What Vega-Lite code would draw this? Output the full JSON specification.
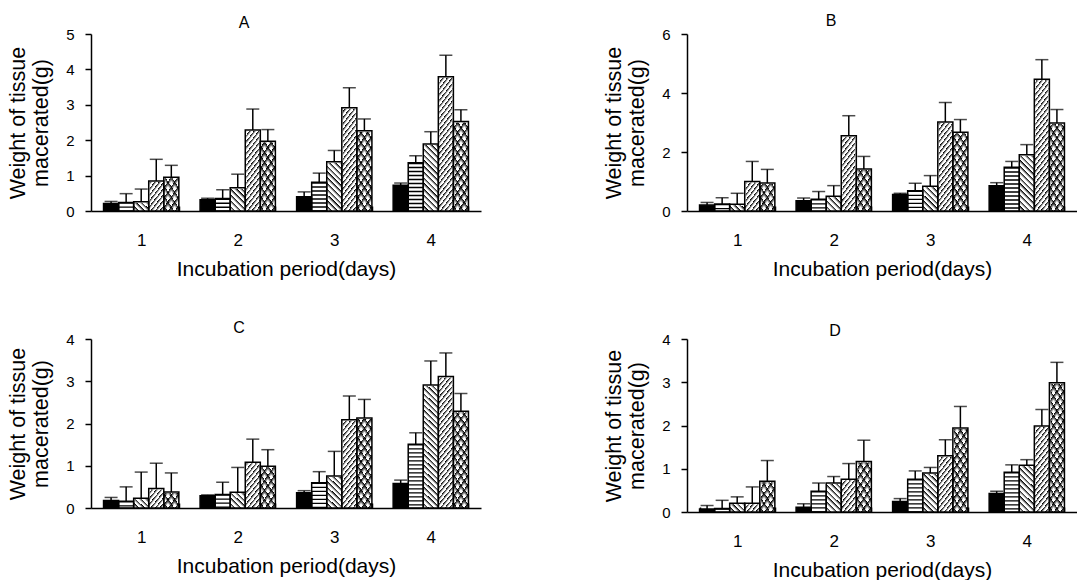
{
 "$schema": "https://vega.github.io/schema/vega-lite/v6.json",
 "background": "white",
 "padding": {"left": 7, "top": 13, "right": 0, "bottom": 0},
 "params": [
  {"name": "gs", "value": {"gradient": "linear", "x1": 0, "y1": 0, "x2": 0.121, "y2": 1.097, "stops": [
    {"offset":0.01,"color":"#fff"},{"offset":0.01,"color":"#000"},{"offset":0.028,"color":"#fff"},
    {"offset":0.04,"color":"#fff"},{"offset":0.04,"color":"#000"},{"offset":0.058,"color":"#fff"},
    {"offset":0.07,"color":"#fff"},{"offset":0.07,"color":"#000"},{"offset":0.088,"color":"#fff"},
    {"offset":0.10,"color":"#fff"},{"offset":0.10,"color":"#000"},{"offset":0.118,"color":"#fff"},
    {"offset":0.13,"color":"#fff"},{"offset":0.13,"color":"#000"},{"offset":0.148,"color":"#fff"},
    {"offset":0.16,"color":"#fff"},{"offset":0.16,"color":"#000"},{"offset":0.178,"color":"#fff"},
    {"offset":0.19,"color":"#fff"},{"offset":0.19,"color":"#000"},{"offset":0.208,"color":"#fff"},
    {"offset":0.22,"color":"#fff"},{"offset":0.22,"color":"#000"},{"offset":0.238,"color":"#fff"},
    {"offset":0.25,"color":"#fff"},{"offset":0.25,"color":"#000"},{"offset":0.268,"color":"#fff"},
    {"offset":0.28,"color":"#fff"},{"offset":0.28,"color":"#000"},{"offset":0.298,"color":"#fff"},
    {"offset":0.31,"color":"#fff"},{"offset":0.31,"color":"#000"},{"offset":0.328,"color":"#fff"},
    {"offset":0.34,"color":"#fff"},{"offset":0.34,"color":"#000"},{"offset":0.358,"color":"#fff"},
    {"offset":0.37,"color":"#fff"},{"offset":0.37,"color":"#000"},{"offset":0.388,"color":"#fff"},
    {"offset":0.40,"color":"#fff"},{"offset":0.40,"color":"#000"},{"offset":0.418,"color":"#fff"},
    {"offset":0.43,"color":"#fff"},{"offset":0.43,"color":"#000"},{"offset":0.448,"color":"#fff"},
    {"offset":0.46,"color":"#fff"},{"offset":0.46,"color":"#000"},{"offset":0.478,"color":"#fff"},
    {"offset":0.49,"color":"#fff"},{"offset":0.49,"color":"#000"},{"offset":0.508,"color":"#fff"},
    {"offset":0.52,"color":"#fff"},{"offset":0.52,"color":"#000"},{"offset":0.538,"color":"#fff"},
    {"offset":0.55,"color":"#fff"},{"offset":0.55,"color":"#000"},{"offset":0.568,"color":"#fff"},
    {"offset":0.58,"color":"#fff"},{"offset":0.58,"color":"#000"},{"offset":0.598,"color":"#fff"},
    {"offset":0.61,"color":"#fff"},{"offset":0.61,"color":"#000"},{"offset":0.628,"color":"#fff"},
    {"offset":0.64,"color":"#fff"},{"offset":0.64,"color":"#000"},{"offset":0.658,"color":"#fff"},
    {"offset":0.67,"color":"#fff"},{"offset":0.67,"color":"#000"},{"offset":0.688,"color":"#fff"},
    {"offset":0.70,"color":"#fff"},{"offset":0.70,"color":"#000"},{"offset":0.718,"color":"#fff"},
    {"offset":0.73,"color":"#fff"},{"offset":0.73,"color":"#000"},{"offset":0.748,"color":"#fff"},
    {"offset":0.76,"color":"#fff"},{"offset":0.76,"color":"#000"},{"offset":0.778,"color":"#fff"},
    {"offset":0.79,"color":"#fff"},{"offset":0.79,"color":"#000"},{"offset":0.808,"color":"#fff"},
    {"offset":0.82,"color":"#fff"},{"offset":0.82,"color":"#000"},{"offset":0.838,"color":"#fff"},
    {"offset":0.85,"color":"#fff"},{"offset":0.85,"color":"#000"},{"offset":0.868,"color":"#fff"},
    {"offset":0.88,"color":"#fff"},{"offset":0.88,"color":"#000"},{"offset":0.898,"color":"#fff"},
    {"offset":0.91,"color":"#fff"},{"offset":0.91,"color":"#000"},{"offset":0.928,"color":"#fff"},
    {"offset":0.94,"color":"#fff"},{"offset":0.94,"color":"#000"},{"offset":0.958,"color":"#fff"},
    {"offset":0.97,"color":"#fff"},{"offset":0.97,"color":"#000"},{"offset":0.988,"color":"#fff"}
  ]}},
  {"name": "gb", "value": {"gradient": "linear", "x1": 1, "y1": 0, "x2": 0.909, "y2": 1.077, "stops": [
    {"offset":0.01,"color":"#fff"},{"offset":0.01,"color":"#000"},{"offset":0.028,"color":"#fff"},
    {"offset":0.04,"color":"#fff"},{"offset":0.04,"color":"#000"},{"offset":0.058,"color":"#fff"},
    {"offset":0.07,"color":"#fff"},{"offset":0.07,"color":"#000"},{"offset":0.088,"color":"#fff"},
    {"offset":0.10,"color":"#fff"},{"offset":0.10,"color":"#000"},{"offset":0.118,"color":"#fff"},
    {"offset":0.13,"color":"#fff"},{"offset":0.13,"color":"#000"},{"offset":0.148,"color":"#fff"},
    {"offset":0.16,"color":"#fff"},{"offset":0.16,"color":"#000"},{"offset":0.178,"color":"#fff"},
    {"offset":0.19,"color":"#fff"},{"offset":0.19,"color":"#000"},{"offset":0.208,"color":"#fff"},
    {"offset":0.22,"color":"#fff"},{"offset":0.22,"color":"#000"},{"offset":0.238,"color":"#fff"},
    {"offset":0.25,"color":"#fff"},{"offset":0.25,"color":"#000"},{"offset":0.268,"color":"#fff"},
    {"offset":0.28,"color":"#fff"},{"offset":0.28,"color":"#000"},{"offset":0.298,"color":"#fff"},
    {"offset":0.31,"color":"#fff"},{"offset":0.31,"color":"#000"},{"offset":0.328,"color":"#fff"},
    {"offset":0.34,"color":"#fff"},{"offset":0.34,"color":"#000"},{"offset":0.358,"color":"#fff"},
    {"offset":0.37,"color":"#fff"},{"offset":0.37,"color":"#000"},{"offset":0.388,"color":"#fff"},
    {"offset":0.40,"color":"#fff"},{"offset":0.40,"color":"#000"},{"offset":0.418,"color":"#fff"},
    {"offset":0.43,"color":"#fff"},{"offset":0.43,"color":"#000"},{"offset":0.448,"color":"#fff"},
    {"offset":0.46,"color":"#fff"},{"offset":0.46,"color":"#000"},{"offset":0.478,"color":"#fff"},
    {"offset":0.49,"color":"#fff"},{"offset":0.49,"color":"#000"},{"offset":0.508,"color":"#fff"},
    {"offset":0.52,"color":"#fff"},{"offset":0.52,"color":"#000"},{"offset":0.538,"color":"#fff"},
    {"offset":0.55,"color":"#fff"},{"offset":0.55,"color":"#000"},{"offset":0.568,"color":"#fff"},
    {"offset":0.58,"color":"#fff"},{"offset":0.58,"color":"#000"},{"offset":0.598,"color":"#fff"},
    {"offset":0.61,"color":"#fff"},{"offset":0.61,"color":"#000"},{"offset":0.628,"color":"#fff"},
    {"offset":0.64,"color":"#fff"},{"offset":0.64,"color":"#000"},{"offset":0.658,"color":"#fff"},
    {"offset":0.67,"color":"#fff"},{"offset":0.67,"color":"#000"},{"offset":0.688,"color":"#fff"},
    {"offset":0.70,"color":"#fff"},{"offset":0.70,"color":"#000"},{"offset":0.718,"color":"#fff"},
    {"offset":0.73,"color":"#fff"},{"offset":0.73,"color":"#000"},{"offset":0.748,"color":"#fff"},
    {"offset":0.76,"color":"#fff"},{"offset":0.76,"color":"#000"},{"offset":0.778,"color":"#fff"},
    {"offset":0.79,"color":"#fff"},{"offset":0.79,"color":"#000"},{"offset":0.808,"color":"#fff"},
    {"offset":0.82,"color":"#fff"},{"offset":0.82,"color":"#000"},{"offset":0.838,"color":"#fff"},
    {"offset":0.85,"color":"#fff"},{"offset":0.85,"color":"#000"},{"offset":0.868,"color":"#fff"},
    {"offset":0.88,"color":"#fff"},{"offset":0.88,"color":"#000"},{"offset":0.898,"color":"#fff"},
    {"offset":0.91,"color":"#fff"},{"offset":0.91,"color":"#000"},{"offset":0.928,"color":"#fff"},
    {"offset":0.94,"color":"#fff"},{"offset":0.94,"color":"#000"},{"offset":0.958,"color":"#fff"},
    {"offset":0.97,"color":"#fff"},{"offset":0.97,"color":"#000"},{"offset":0.988,"color":"#fff"}
  ]}},
  {"name": "gcs", "value": {"gradient": "linear", "x1": 0, "y1": 0, "x2": 0.141, "y2": 1.109, "stops": [
    {"offset":0.02,"color":"#fff"},{"offset":0.02,"color":"#000"},{"offset":0.048,"color":"#fff"},
    {"offset":0.07,"color":"#fff"},{"offset":0.07,"color":"#000"},{"offset":0.098,"color":"#fff"},
    {"offset":0.12,"color":"#fff"},{"offset":0.12,"color":"#000"},{"offset":0.148,"color":"#fff"},
    {"offset":0.17,"color":"#fff"},{"offset":0.17,"color":"#000"},{"offset":0.198,"color":"#fff"},
    {"offset":0.22,"color":"#fff"},{"offset":0.22,"color":"#000"},{"offset":0.248,"color":"#fff"},
    {"offset":0.27,"color":"#fff"},{"offset":0.27,"color":"#000"},{"offset":0.298,"color":"#fff"},
    {"offset":0.32,"color":"#fff"},{"offset":0.32,"color":"#000"},{"offset":0.348,"color":"#fff"},
    {"offset":0.37,"color":"#fff"},{"offset":0.37,"color":"#000"},{"offset":0.398,"color":"#fff"},
    {"offset":0.42,"color":"#fff"},{"offset":0.42,"color":"#000"},{"offset":0.448,"color":"#fff"},
    {"offset":0.47,"color":"#fff"},{"offset":0.47,"color":"#000"},{"offset":0.498,"color":"#fff"},
    {"offset":0.52,"color":"#fff"},{"offset":0.52,"color":"#000"},{"offset":0.548,"color":"#fff"},
    {"offset":0.57,"color":"#fff"},{"offset":0.57,"color":"#000"},{"offset":0.598,"color":"#fff"},
    {"offset":0.62,"color":"#fff"},{"offset":0.62,"color":"#000"},{"offset":0.648,"color":"#fff"},
    {"offset":0.67,"color":"#fff"},{"offset":0.67,"color":"#000"},{"offset":0.698,"color":"#fff"},
    {"offset":0.72,"color":"#fff"},{"offset":0.72,"color":"#000"},{"offset":0.748,"color":"#fff"},
    {"offset":0.77,"color":"#fff"},{"offset":0.77,"color":"#000"},{"offset":0.798,"color":"#fff"},
    {"offset":0.82,"color":"#fff"},{"offset":0.82,"color":"#000"},{"offset":0.848,"color":"#fff"},
    {"offset":0.87,"color":"#fff"},{"offset":0.87,"color":"#000"},{"offset":0.898,"color":"#fff"},
    {"offset":0.92,"color":"#fff"},{"offset":0.92,"color":"#000"},{"offset":0.948,"color":"#fff"},
    {"offset":0.97,"color":"#fff"},{"offset":0.97,"color":"#000"},{"offset":0.998,"color":"#fff"}
  ]}},
  {"name": "gcb", "value": {"gradient": "linear", "x1": 1, "y1": 0, "x2": 0.859, "y2": 1.109, "stops": [
    {"offset":0.02,"color":"rgba(0,0,0,0)"},{"offset":0.02,"color":"#000"},{"offset":0.048,"color":"rgba(0,0,0,0)"},
    {"offset":0.07,"color":"rgba(0,0,0,0)"},{"offset":0.07,"color":"#000"},{"offset":0.098,"color":"rgba(0,0,0,0)"},
    {"offset":0.12,"color":"rgba(0,0,0,0)"},{"offset":0.12,"color":"#000"},{"offset":0.148,"color":"rgba(0,0,0,0)"},
    {"offset":0.17,"color":"rgba(0,0,0,0)"},{"offset":0.17,"color":"#000"},{"offset":0.198,"color":"rgba(0,0,0,0)"},
    {"offset":0.22,"color":"rgba(0,0,0,0)"},{"offset":0.22,"color":"#000"},{"offset":0.248,"color":"rgba(0,0,0,0)"},
    {"offset":0.27,"color":"rgba(0,0,0,0)"},{"offset":0.27,"color":"#000"},{"offset":0.298,"color":"rgba(0,0,0,0)"},
    {"offset":0.32,"color":"rgba(0,0,0,0)"},{"offset":0.32,"color":"#000"},{"offset":0.348,"color":"rgba(0,0,0,0)"},
    {"offset":0.37,"color":"rgba(0,0,0,0)"},{"offset":0.37,"color":"#000"},{"offset":0.398,"color":"rgba(0,0,0,0)"},
    {"offset":0.42,"color":"rgba(0,0,0,0)"},{"offset":0.42,"color":"#000"},{"offset":0.448,"color":"rgba(0,0,0,0)"},
    {"offset":0.47,"color":"rgba(0,0,0,0)"},{"offset":0.47,"color":"#000"},{"offset":0.498,"color":"rgba(0,0,0,0)"},
    {"offset":0.52,"color":"rgba(0,0,0,0)"},{"offset":0.52,"color":"#000"},{"offset":0.548,"color":"rgba(0,0,0,0)"},
    {"offset":0.57,"color":"rgba(0,0,0,0)"},{"offset":0.57,"color":"#000"},{"offset":0.598,"color":"rgba(0,0,0,0)"},
    {"offset":0.62,"color":"rgba(0,0,0,0)"},{"offset":0.62,"color":"#000"},{"offset":0.648,"color":"rgba(0,0,0,0)"},
    {"offset":0.67,"color":"rgba(0,0,0,0)"},{"offset":0.67,"color":"#000"},{"offset":0.698,"color":"rgba(0,0,0,0)"},
    {"offset":0.72,"color":"rgba(0,0,0,0)"},{"offset":0.72,"color":"#000"},{"offset":0.748,"color":"rgba(0,0,0,0)"},
    {"offset":0.77,"color":"rgba(0,0,0,0)"},{"offset":0.77,"color":"#000"},{"offset":0.798,"color":"rgba(0,0,0,0)"},
    {"offset":0.82,"color":"rgba(0,0,0,0)"},{"offset":0.82,"color":"#000"},{"offset":0.848,"color":"rgba(0,0,0,0)"},
    {"offset":0.87,"color":"rgba(0,0,0,0)"},{"offset":0.87,"color":"#000"},{"offset":0.898,"color":"rgba(0,0,0,0)"},
    {"offset":0.92,"color":"rgba(0,0,0,0)"},{"offset":0.92,"color":"#000"},{"offset":0.948,"color":"rgba(0,0,0,0)"},
    {"offset":0.97,"color":"rgba(0,0,0,0)"},{"offset":0.97,"color":"#000"},{"offset":0.998,"color":"rgba(0,0,0,0)"}
  ]}}
 ],
 "data": {"values": [
  {"p":"A","d":1,"s":1,"v":0.21,"hi":0.27},{"p":"A","d":1,"s":2,"v":0.24,"hi":0.49},{"p":"A","d":1,"s":3,"v":0.26,"hi":0.62},{"p":"A","d":1,"s":4,"v":0.85,"hi":1.46},{"p":"A","d":1,"s":5,"v":0.95,"hi":1.29},
  {"p":"A","d":2,"s":1,"v":0.32,"hi":0.36},{"p":"A","d":2,"s":2,"v":0.35,"hi":0.6},{"p":"A","d":2,"s":3,"v":0.66,"hi":1.04},{"p":"A","d":2,"s":4,"v":2.29,"hi":2.88},{"p":"A","d":2,"s":5,"v":1.97,"hi":2.3},
  {"p":"A","d":3,"s":1,"v":0.4,"hi":0.54},{"p":"A","d":3,"s":2,"v":0.81,"hi":1.07},{"p":"A","d":3,"s":3,"v":1.39,"hi":1.71},{"p":"A","d":3,"s":4,"v":2.92,"hi":3.48},{"p":"A","d":3,"s":5,"v":2.27,"hi":2.6},
  {"p":"A","d":4,"s":1,"v":0.73,"hi":0.79},{"p":"A","d":4,"s":2,"v":1.36,"hi":1.56},{"p":"A","d":4,"s":3,"v":1.89,"hi":2.24},{"p":"A","d":4,"s":4,"v":3.79,"hi":4.4},{"p":"A","d":4,"s":5,"v":2.53,"hi":2.86},
  {"p":"B","d":1,"s":1,"v":0.2,"hi":0.29},{"p":"B","d":1,"s":2,"v":0.24,"hi":0.45},{"p":"B","d":1,"s":3,"v":0.23,"hi":0.6},{"p":"B","d":1,"s":4,"v":1.0,"hi":1.68},{"p":"B","d":1,"s":5,"v":0.95,"hi":1.41},
  {"p":"B","d":2,"s":1,"v":0.35,"hi":0.44},{"p":"B","d":2,"s":2,"v":0.4,"hi":0.66},{"p":"B","d":2,"s":3,"v":0.5,"hi":0.86},{"p":"B","d":2,"s":4,"v":2.55,"hi":3.23},{"p":"B","d":2,"s":5,"v":1.42,"hi":1.85},
  {"p":"B","d":3,"s":1,"v":0.56,"hi":0.6},{"p":"B","d":3,"s":2,"v":0.69,"hi":0.94},{"p":"B","d":3,"s":3,"v":0.84,"hi":1.2},{"p":"B","d":3,"s":4,"v":3.02,"hi":3.68},{"p":"B","d":3,"s":5,"v":2.67,"hi":3.1},
  {"p":"B","d":4,"s":1,"v":0.86,"hi":0.96},{"p":"B","d":4,"s":2,"v":1.48,"hi":1.68},{"p":"B","d":4,"s":3,"v":1.91,"hi":2.25},{"p":"B","d":4,"s":4,"v":4.47,"hi":5.13},{"p":"B","d":4,"s":5,"v":2.98,"hi":3.44},
  {"p":"C","d":1,"s":1,"v":0.18,"hi":0.25},{"p":"C","d":1,"s":2,"v":0.16,"hi":0.5},{"p":"C","d":1,"s":3,"v":0.23,"hi":0.85},{"p":"C","d":1,"s":4,"v":0.46,"hi":1.06},{"p":"C","d":1,"s":5,"v":0.38,"hi":0.83},
  {"p":"C","d":2,"s":1,"v":0.29,"hi":0.31},{"p":"C","d":2,"s":2,"v":0.32,"hi":0.61},{"p":"C","d":2,"s":3,"v":0.37,"hi":0.96},{"p":"C","d":2,"s":4,"v":1.08,"hi":1.63},{"p":"C","d":2,"s":5,"v":0.99,"hi":1.38},
  {"p":"C","d":3,"s":1,"v":0.36,"hi":0.41},{"p":"C","d":3,"s":2,"v":0.6,"hi":0.86},{"p":"C","d":3,"s":3,"v":0.76,"hi":1.34},{"p":"C","d":3,"s":4,"v":2.09,"hi":2.65},{"p":"C","d":3,"s":5,"v":2.13,"hi":2.57},
  {"p":"C","d":4,"s":1,"v":0.58,"hi":0.66},{"p":"C","d":4,"s":2,"v":1.51,"hi":1.78},{"p":"C","d":4,"s":3,"v":2.91,"hi":3.48},{"p":"C","d":4,"s":4,"v":3.11,"hi":3.67},{"p":"C","d":4,"s":5,"v":2.29,"hi":2.71},
  {"p":"D","d":1,"s":1,"v":0.07,"hi":0.15},{"p":"D","d":1,"s":2,"v":0.08,"hi":0.27},{"p":"D","d":1,"s":3,"v":0.2,"hi":0.35},{"p":"D","d":1,"s":4,"v":0.2,"hi":0.58},{"p":"D","d":1,"s":5,"v":0.71,"hi":1.19},
  {"p":"D","d":2,"s":1,"v":0.11,"hi":0.19},{"p":"D","d":2,"s":2,"v":0.48,"hi":0.67},{"p":"D","d":2,"s":3,"v":0.67,"hi":0.82},{"p":"D","d":2,"s":4,"v":0.76,"hi":1.12},{"p":"D","d":2,"s":5,"v":1.17,"hi":1.66},
  {"p":"D","d":3,"s":1,"v":0.24,"hi":0.31},{"p":"D","d":3,"s":2,"v":0.76,"hi":0.95},{"p":"D","d":3,"s":3,"v":0.9,"hi":1.03},{"p":"D","d":3,"s":4,"v":1.3,"hi":1.67},{"p":"D","d":3,"s":5,"v":1.94,"hi":2.44},
  {"p":"D","d":4,"s":1,"v":0.43,"hi":0.48},{"p":"D","d":4,"s":2,"v":0.92,"hi":1.09},{"p":"D","d":4,"s":3,"v":1.08,"hi":1.21},{"p":"D","d":4,"s":4,"v":1.99,"hi":2.37},{"p":"D","d":4,"s":5,"v":2.99,"hi":3.46}
 ]},
 "spacing": 41,
 "vconcat": [
  {"spacing": 122, "hconcat": [
   {"width": 390, "height": 177,
    "title": {"text": "A", "dx": -42, "offset": -4},
    "transform": [{"filter": "datum.p == 'A'"}],
    "encoding": {
     "x": {"field": "d", "type": "ordinal", "scale": {"paddingInner": 0.22, "paddingOuter": 0.13}, "axis": {"title": "Incubation period(days)"}},
     "xOffset": {"field": "s", "type": "nominal", "scale": {"paddingInner": 0, "paddingOuter": 0}}
    },
    "layer": [
     {"transform": [{"filter": "datum.s == 3"}], "mark": {"type": "bar", "fill": {"expr": "gb"}}, "encoding": {"y": {"datum": 5, "type": "quantitative", "axis": {"values": [0,1,2,3,4,5], "labelOverlap": false, "labelFontSize": 15, "title": ["Weight of tissue", "macerated(g)"]}}, "y2": {"datum": 0}}},
     {"transform": [{"filter": "datum.s == 4"}], "mark": {"type": "bar", "fill": {"expr": "gs"}}, "encoding": {"y": {"datum": 5, "type": "quantitative", "axis": {"values": [0,1,2,3,4,5], "labelOverlap": false, "labelFontSize": 15, "title": ["Weight of tissue", "macerated(g)"]}}, "y2": {"datum": 0}}},
     {"transform": [{"filter": "datum.s == 5"}], "mark": {"type": "bar", "fill": {"expr": "gcs"}}, "encoding": {"y": {"datum": 5, "type": "quantitative", "axis": {"values": [0,1,2,3,4,5], "labelOverlap": false, "labelFontSize": 15, "title": ["Weight of tissue", "macerated(g)"]}}, "y2": {"datum": 0}}},
     {"transform": [{"filter": "datum.s == 5"}], "mark": {"type": "bar", "fill": {"expr": "gcb"}}, "encoding": {"y": {"datum": 5, "type": "quantitative", "axis": {"values": [0,1,2,3,4,5], "labelOverlap": false, "labelFontSize": 15, "title": ["Weight of tissue", "macerated(g)"]}}, "y2": {"datum": 0}}},
     {"transform": [{"filter": "datum.s >= 3"}], "mark": {"type": "bar", "fill": "#fff", "stroke": "#fff", "strokeWidth": 2}, "encoding": {"y": {"field": "v", "type": "quantitative", "axis": {"values": [0,1,2,3,4,5], "labelOverlap": false, "labelFontSize": 15, "title": ["Weight of tissue", "macerated(g)"]}}, "y2": {"datum": 5}}},
     {"transform": [{"filter": "datum.s == 2"}], "mark": {"type": "rule", "strokeWidth": 15, "strokeDash": [1.3, 2.7], "color": "#000"}, "encoding": {"y": {"field": "v", "type": "quantitative", "axis": {"values": [0,1,2,3,4,5], "labelOverlap": false, "labelFontSize": 15, "title": ["Weight of tissue", "macerated(g)"]}}, "y2": {"datum": 0}}},
     {"mark": {"type": "bar", "stroke": "#000", "strokeWidth": 1.5}, "encoding": {"y": {"field": "v", "type": "quantitative", "scale": {"domain": [0, 5], "nice": false}, "axis": {"values": [0,1,2,3,4,5], "labelOverlap": false, "labelFontSize": 15, "title": ["Weight of tissue", "macerated(g)"]}}, "fill": {"condition": {"test": "datum.s == 1", "value": "#000"}, "value": "transparent"}}},
     {"mark": {"type": "rule", "strokeWidth": 1.5, "color": "#000"}, "encoding": {"y": {"field": "v", "type": "quantitative", "axis": {"values": [0,1,2,3,4,5], "labelOverlap": false, "labelFontSize": 15, "title": ["Weight of tissue", "macerated(g)"]}}, "y2": {"field": "hi"}}},
     {"mark": {"type": "tick", "size": 13, "thickness": 1.5, "color": "#000"}, "encoding": {"y": {"field": "hi", "type": "quantitative", "axis": {"values": [0,1,2,3,4,5], "labelOverlap": false, "labelFontSize": 15, "title": ["Weight of tissue", "macerated(g)"]}}}}
    ]},
   {"width": 390, "height": 177,
    "title": {"text": "B", "dx": -51, "offset": -2},
    "transform": [{"filter": "datum.p == 'B'"}],
    "encoding": {
     "x": {"field": "d", "type": "ordinal", "scale": {"paddingInner": 0.22, "paddingOuter": 0.13}, "axis": {"title": "Incubation period(days)"}},
     "xOffset": {"field": "s", "type": "nominal", "scale": {"paddingInner": 0, "paddingOuter": 0}}
    },
    "layer": [
     {"transform": [{"filter": "datum.s == 3"}], "mark": {"type": "bar", "fill": {"expr": "gb"}}, "encoding": {"y": {"datum": 6, "type": "quantitative", "axis": {"values": [0,2,4,6], "labelOverlap": false, "labelFontSize": 15, "title": ["Weight of tissue", "macerated(g)"]}}, "y2": {"datum": 0}}},
     {"transform": [{"filter": "datum.s == 4"}], "mark": {"type": "bar", "fill": {"expr": "gs"}}, "encoding": {"y": {"datum": 6, "type": "quantitative", "axis": {"values": [0,2,4,6], "labelOverlap": false, "labelFontSize": 15, "title": ["Weight of tissue", "macerated(g)"]}}, "y2": {"datum": 0}}},
     {"transform": [{"filter": "datum.s == 5"}], "mark": {"type": "bar", "fill": {"expr": "gcs"}}, "encoding": {"y": {"datum": 6, "type": "quantitative", "axis": {"values": [0,2,4,6], "labelOverlap": false, "labelFontSize": 15, "title": ["Weight of tissue", "macerated(g)"]}}, "y2": {"datum": 0}}},
     {"transform": [{"filter": "datum.s == 5"}], "mark": {"type": "bar", "fill": {"expr": "gcb"}}, "encoding": {"y": {"datum": 6, "type": "quantitative", "axis": {"values": [0,2,4,6], "labelOverlap": false, "labelFontSize": 15, "title": ["Weight of tissue", "macerated(g)"]}}, "y2": {"datum": 0}}},
     {"transform": [{"filter": "datum.s >= 3"}], "mark": {"type": "bar", "fill": "#fff", "stroke": "#fff", "strokeWidth": 2}, "encoding": {"y": {"field": "v", "type": "quantitative", "axis": {"values": [0,2,4,6], "labelOverlap": false, "labelFontSize": 15, "title": ["Weight of tissue", "macerated(g)"]}}, "y2": {"datum": 6}}},
     {"transform": [{"filter": "datum.s == 2"}], "mark": {"type": "rule", "strokeWidth": 15, "strokeDash": [1.3, 2.7], "color": "#000"}, "encoding": {"y": {"field": "v", "type": "quantitative", "axis": {"values": [0,2,4,6], "labelOverlap": false, "labelFontSize": 15, "title": ["Weight of tissue", "macerated(g)"]}}, "y2": {"datum": 0}}},
     {"mark": {"type": "bar", "stroke": "#000", "strokeWidth": 1.5}, "encoding": {"y": {"field": "v", "type": "quantitative", "scale": {"domain": [0, 6], "nice": false}, "axis": {"values": [0,2,4,6], "labelOverlap": false, "labelFontSize": 15, "title": ["Weight of tissue", "macerated(g)"]}}, "fill": {"condition": {"test": "datum.s == 1", "value": "#000"}, "value": "transparent"}}},
     {"mark": {"type": "rule", "strokeWidth": 1.5, "color": "#000"}, "encoding": {"y": {"field": "v", "type": "quantitative", "axis": {"values": [0,2,4,6], "labelOverlap": false, "labelFontSize": 15, "title": ["Weight of tissue", "macerated(g)"]}}, "y2": {"field": "hi"}}},
     {"mark": {"type": "tick", "size": 13, "thickness": 1.5, "color": "#000"}, "encoding": {"y": {"field": "hi", "type": "quantitative", "axis": {"values": [0,2,4,6], "labelOverlap": false, "labelFontSize": 15, "title": ["Weight of tissue", "macerated(g)"]}}}}
    ]}
  ]},
  {"spacing": 122, "hconcat": [
   {"width": 390, "height": 169,
    "title": {"text": "C", "dx": -47, "offset": -4},
    "transform": [{"filter": "datum.p == 'C'"}],
    "encoding": {
     "x": {"field": "d", "type": "ordinal", "scale": {"paddingInner": 0.22, "paddingOuter": 0.13}, "axis": {"title": "Incubation period(days)"}},
     "xOffset": {"field": "s", "type": "nominal", "scale": {"paddingInner": 0, "paddingOuter": 0}}
    },
    "layer": [
     {"transform": [{"filter": "datum.s == 3"}], "mark": {"type": "bar", "fill": {"expr": "gb"}}, "encoding": {"y": {"datum": 4, "type": "quantitative", "axis": {"values": [0,1,2,3,4], "labelOverlap": false, "labelFontSize": 15, "title": ["Weight of tissue", "macerated(g)"]}}, "y2": {"datum": 0}}},
     {"transform": [{"filter": "datum.s == 4"}], "mark": {"type": "bar", "fill": {"expr": "gs"}}, "encoding": {"y": {"datum": 4, "type": "quantitative", "axis": {"values": [0,1,2,3,4], "labelOverlap": false, "labelFontSize": 15, "title": ["Weight of tissue", "macerated(g)"]}}, "y2": {"datum": 0}}},
     {"transform": [{"filter": "datum.s == 5"}], "mark": {"type": "bar", "fill": {"expr": "gcs"}}, "encoding": {"y": {"datum": 4, "type": "quantitative", "axis": {"values": [0,1,2,3,4], "labelOverlap": false, "labelFontSize": 15, "title": ["Weight of tissue", "macerated(g)"]}}, "y2": {"datum": 0}}},
     {"transform": [{"filter": "datum.s == 5"}], "mark": {"type": "bar", "fill": {"expr": "gcb"}}, "encoding": {"y": {"datum": 4, "type": "quantitative", "axis": {"values": [0,1,2,3,4], "labelOverlap": false, "labelFontSize": 15, "title": ["Weight of tissue", "macerated(g)"]}}, "y2": {"datum": 0}}},
     {"transform": [{"filter": "datum.s >= 3"}], "mark": {"type": "bar", "fill": "#fff", "stroke": "#fff", "strokeWidth": 2}, "encoding": {"y": {"field": "v", "type": "quantitative", "axis": {"values": [0,1,2,3,4], "labelOverlap": false, "labelFontSize": 15, "title": ["Weight of tissue", "macerated(g)"]}}, "y2": {"datum": 4}}},
     {"transform": [{"filter": "datum.s == 2"}], "mark": {"type": "rule", "strokeWidth": 15, "strokeDash": [1.3, 2.7], "color": "#000"}, "encoding": {"y": {"field": "v", "type": "quantitative", "axis": {"values": [0,1,2,3,4], "labelOverlap": false, "labelFontSize": 15, "title": ["Weight of tissue", "macerated(g)"]}}, "y2": {"datum": 0}}},
     {"mark": {"type": "bar", "stroke": "#000", "strokeWidth": 1.5}, "encoding": {"y": {"field": "v", "type": "quantitative", "scale": {"domain": [0, 4], "nice": false}, "axis": {"values": [0,1,2,3,4], "labelOverlap": false, "labelFontSize": 15, "title": ["Weight of tissue", "macerated(g)"]}}, "fill": {"condition": {"test": "datum.s == 1", "value": "#000"}, "value": "transparent"}}},
     {"mark": {"type": "rule", "strokeWidth": 1.5, "color": "#000"}, "encoding": {"y": {"field": "v", "type": "quantitative", "axis": {"values": [0,1,2,3,4], "labelOverlap": false, "labelFontSize": 15, "title": ["Weight of tissue", "macerated(g)"]}}, "y2": {"field": "hi"}}},
     {"mark": {"type": "tick", "size": 13, "thickness": 1.5, "color": "#000"}, "encoding": {"y": {"field": "hi", "type": "quantitative", "axis": {"values": [0,1,2,3,4], "labelOverlap": false, "labelFontSize": 15, "title": ["Weight of tissue", "macerated(g)"]}}}}
    ]},
   {"width": 390, "height": 173,
    "title": {"text": "D", "dx": -47, "offset": -7},
    "transform": [{"filter": "datum.p == 'D'"}],
    "encoding": {
     "x": {"field": "d", "type": "ordinal", "scale": {"paddingInner": 0.22, "paddingOuter": 0.13}, "axis": {"title": "Incubation period(days)"}},
     "xOffset": {"field": "s", "type": "nominal", "scale": {"paddingInner": 0, "paddingOuter": 0}}
    },
    "layer": [
     {"transform": [{"filter": "datum.s == 3"}], "mark": {"type": "bar", "fill": {"expr": "gb"}}, "encoding": {"y": {"datum": 4, "type": "quantitative", "axis": {"values": [0,1,2,3,4], "labelOverlap": false, "labelFontSize": 15, "title": ["Weight of tissue", "macerated(g)"]}}, "y2": {"datum": 0}}},
     {"transform": [{"filter": "datum.s == 4"}], "mark": {"type": "bar", "fill": {"expr": "gs"}}, "encoding": {"y": {"datum": 4, "type": "quantitative", "axis": {"values": [0,1,2,3,4], "labelOverlap": false, "labelFontSize": 15, "title": ["Weight of tissue", "macerated(g)"]}}, "y2": {"datum": 0}}},
     {"transform": [{"filter": "datum.s == 5"}], "mark": {"type": "bar", "fill": {"expr": "gcs"}}, "encoding": {"y": {"datum": 4, "type": "quantitative", "axis": {"values": [0,1,2,3,4], "labelOverlap": false, "labelFontSize": 15, "title": ["Weight of tissue", "macerated(g)"]}}, "y2": {"datum": 0}}},
     {"transform": [{"filter": "datum.s == 5"}], "mark": {"type": "bar", "fill": {"expr": "gcb"}}, "encoding": {"y": {"datum": 4, "type": "quantitative", "axis": {"values": [0,1,2,3,4], "labelOverlap": false, "labelFontSize": 15, "title": ["Weight of tissue", "macerated(g)"]}}, "y2": {"datum": 0}}},
     {"transform": [{"filter": "datum.s >= 3"}], "mark": {"type": "bar", "fill": "#fff", "stroke": "#fff", "strokeWidth": 2}, "encoding": {"y": {"field": "v", "type": "quantitative", "axis": {"values": [0,1,2,3,4], "labelOverlap": false, "labelFontSize": 15, "title": ["Weight of tissue", "macerated(g)"]}}, "y2": {"datum": 4}}},
     {"transform": [{"filter": "datum.s == 2"}], "mark": {"type": "rule", "strokeWidth": 15, "strokeDash": [1.3, 2.7], "color": "#000"}, "encoding": {"y": {"field": "v", "type": "quantitative", "axis": {"values": [0,1,2,3,4], "labelOverlap": false, "labelFontSize": 15, "title": ["Weight of tissue", "macerated(g)"]}}, "y2": {"datum": 0}}},
     {"mark": {"type": "bar", "stroke": "#000", "strokeWidth": 1.5}, "encoding": {"y": {"field": "v", "type": "quantitative", "scale": {"domain": [0, 4], "nice": false}, "axis": {"values": [0,1,2,3,4], "labelOverlap": false, "labelFontSize": 15, "title": ["Weight of tissue", "macerated(g)"]}}, "fill": {"condition": {"test": "datum.s == 1", "value": "#000"}, "value": "transparent"}}},
     {"mark": {"type": "rule", "strokeWidth": 1.5, "color": "#000"}, "encoding": {"y": {"field": "v", "type": "quantitative", "axis": {"values": [0,1,2,3,4], "labelOverlap": false, "labelFontSize": 15, "title": ["Weight of tissue", "macerated(g)"]}}, "y2": {"field": "hi"}}},
     {"mark": {"type": "tick", "size": 13, "thickness": 1.5, "color": "#000"}, "encoding": {"y": {"field": "hi", "type": "quantitative", "axis": {"values": [0,1,2,3,4], "labelOverlap": false, "labelFontSize": 15, "title": ["Weight of tissue", "macerated(g)"]}}}}
    ]}
  ]}
 ],
 "config": {
  "view": {"stroke": null},
  "font": "Liberation Sans",
  "axis": {"domainColor": "#000", "domainWidth": 1.5, "tickColor": "#000", "tickWidth": 1.5, "labelColor": "#000", "titleColor": "#000", "labelFont": "Liberation Sans", "titleFont": "Liberation Sans", "titleFontWeight": "normal", "grid": false},
  "axisX": {"labelAngle": 0, "labelFontSize": 17, "titleFontSize": 21, "ticks": true, "tickBand": "extent", "tickSize": -5, "labelPadding": 26, "titlePadding": 10},
  "axisY": {"labelFontSize": 15, "labelOverlap": false, "titleFontSize": 21.5, "tickSize": 6, "labelPadding": 11, "titlePadding": 13, "titleLineHeight": 23},
  "title": {"fontSize": 16, "fontWeight": "normal", "font": "Liberation Sans", "color": "#000", "frame": "group"}
 }
}
